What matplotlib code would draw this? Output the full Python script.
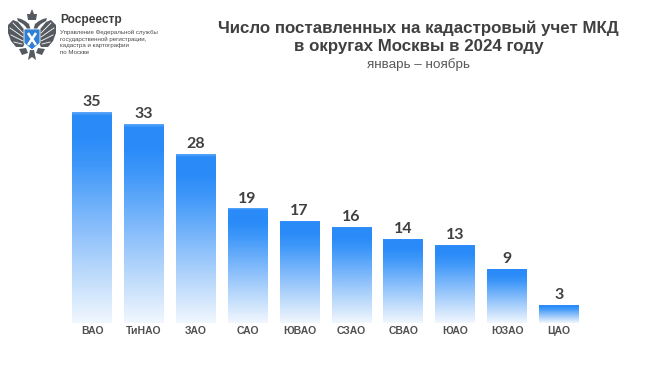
import numpy as np
from matplotlib import pyplot as plt
from matplotlib.colors import LinearSegmentedColormap
from matplotlib.patches import Polygon

districts = ['ВАО', 'ТиНАО', 'ЗАО', 'САО', 'ЮВАО', 'СЗАО', 'СВАО', 'ЮАО', 'ЮЗАО', 'ЦАО']
counts = [35, 33, 28, 19, 17, 16, 14, 13, 9, 3]

title_lines = ['Число поставленных на кадастровый учет МКД', 'в округах Москвы в 2024 году']
subtitle = 'январь – ноябрь'
org_name = 'Росреестр'
org_lines = ['Управление Федеральной службы', 'государственной регистрации,',
             'кадастра и картографии', 'по Москве']

W, H = 650, 365
plt.rcParams['font.family'] = ['Liberation Sans', 'DejaVu Sans']

fig = plt.figure(figsize=(W / 100, H / 100), dpi=100, facecolor='white')

# bar axes: pixel box, y=0 at 323px, y=35 at 112px
bottom_px, top_px = 323, 112
center0, pitch = 92, 51.9
left_px = center0 - pitch / 2
ax = fig.add_axes((left_px / W, 1 - bottom_px / H, pitch * 10 / W, (bottom_px - top_px) / H))
ax.axis('off')

cmap = LinearSegmentedColormap.from_list(
    'bars', [(0, '#f1f7fe'), (.25, '#b8d8fb'), (.5, '#7db8fb'), (.75, '#3f98f9'),
             (.88, '#2a8bf8'), (.985, '#2a8bf8'), (1, '#5aa6fa')])
gradient = np.linspace(0, 1, 256).reshape(-1, 1)

bar_w = .77
for i, value in enumerate(counts):
    bar = ax.bar(i, value, width=bar_w, color='none', edgecolor='none')[0]
    im = ax.imshow(gradient, origin='lower', aspect='auto', cmap=cmap, vmin=0, vmax=1,
                   extent=(i - bar_w / 2, i + bar_w / 2, 0, value), zorder=2)
    im.set_clip_path(bar)
    ax.text(i, value + .45, str(value), ha='center', va='bottom', fontsize=11.5,
            fontweight='bold', color='#404040', family=['Lato', 'DejaVu Sans'], clip_on=False)
    ax.text(i, -1.33, districts[i], ha='center', va='center', fontsize=7.5,
            fontweight='bold', color='#505050', clip_on=False)
ax.set_xlim(-.5, 9.5)
ax.set_ylim(0, 35)

# overlay in pixel coordinates for header and logo
ov = fig.add_axes((0, 0, 1, 1), facecolor='none')
ov.set_xlim(0, W)
ov.set_ylim(H, 0)
ov.axis('off')

ov.text(418.5, 28, title_lines[0], ha='center', va='center', fontsize=12.2,
        fontweight='bold', color='#404040')
ov.text(418.5, 46.5, title_lines[1], ha='center', va='center', fontsize=12.2,
        fontweight='bold', color='#404040')
ov.text(418, 65, subtitle, ha='center', va='center', fontsize=9.7, color='#595959')

ov.text(60, 20.5, org_name, ha='left', va='center', fontsize=8.6, fontweight='bold', color='#3d3d3d')
for y, line in zip([32, 39, 46, 53], org_lines):
    ov.text(60, y, line, ha='left', va='center', fontsize=4.4, color='#4a4a4a')

# rough emblem
eagle = '#555a60'
for sign in (-1, 1):
    wing = [(32 + sign * x, y) for x, y in
            [(4, 34), (9, 28), (14, 22), (19, 20), (24, 25), (24, 33), (21, 41), (16, 47), (9, 47), (6, 41)]]
    ov.add_patch(Polygon(wing, closed=True, fc=eagle, ec='none'))
    # feather gaps
    for (x0, y0), (x1, y1) in [((9, 33), (19, 23)), ((9, 37), (22, 28)), ((9, 41), (21, 35)), ((10, 44), (18, 42))]:
        ov.plot([32 + sign * x0, 32 + sign * x1], [y0, y1], color='white', lw=.6)
    neck = [(32 + sign * x, y) for x, y in
            [(1, 31), (3, 24), (7, 21), (11, 19), (15, 18), (14, 21), (9, 24), (6, 27), (4, 32)]]
    ov.add_patch(Polygon(neck, closed=True, fc=eagle, ec='none'))
    leg = [(32 + sign * x, y) for x, y in [(6, 48), (13, 49), (10, 55), (4, 53)]]
    ov.add_patch(Polygon(leg, closed=True, fc=eagle, ec='none'))
ov.add_patch(Polygon([(28, 20), (27, 14), (30, 14), (32, 9), (34, 14), (37, 14), (36, 20)],
                     closed=True, fc=eagle, ec='none'))
ov.add_patch(Polygon([(30, 50), (34, 50), (36, 60), (32, 57), (28, 60)], closed=True, fc=eagle, ec='none'))
ov.add_patch(Polygon([(24, 29), (40, 29), (40, 43), (32, 50), (24, 43)], closed=True,
                     fc='#2f7fd6', ec='white', lw=.6))
ov.plot([28, 36], [33, 45], color='white', lw=1.8, solid_capstyle='butt')
ov.plot([36, 28], [33, 45], color='white', lw=1.8, solid_capstyle='butt')

fig.savefig('out.png', dpi=100, facecolor='white')
